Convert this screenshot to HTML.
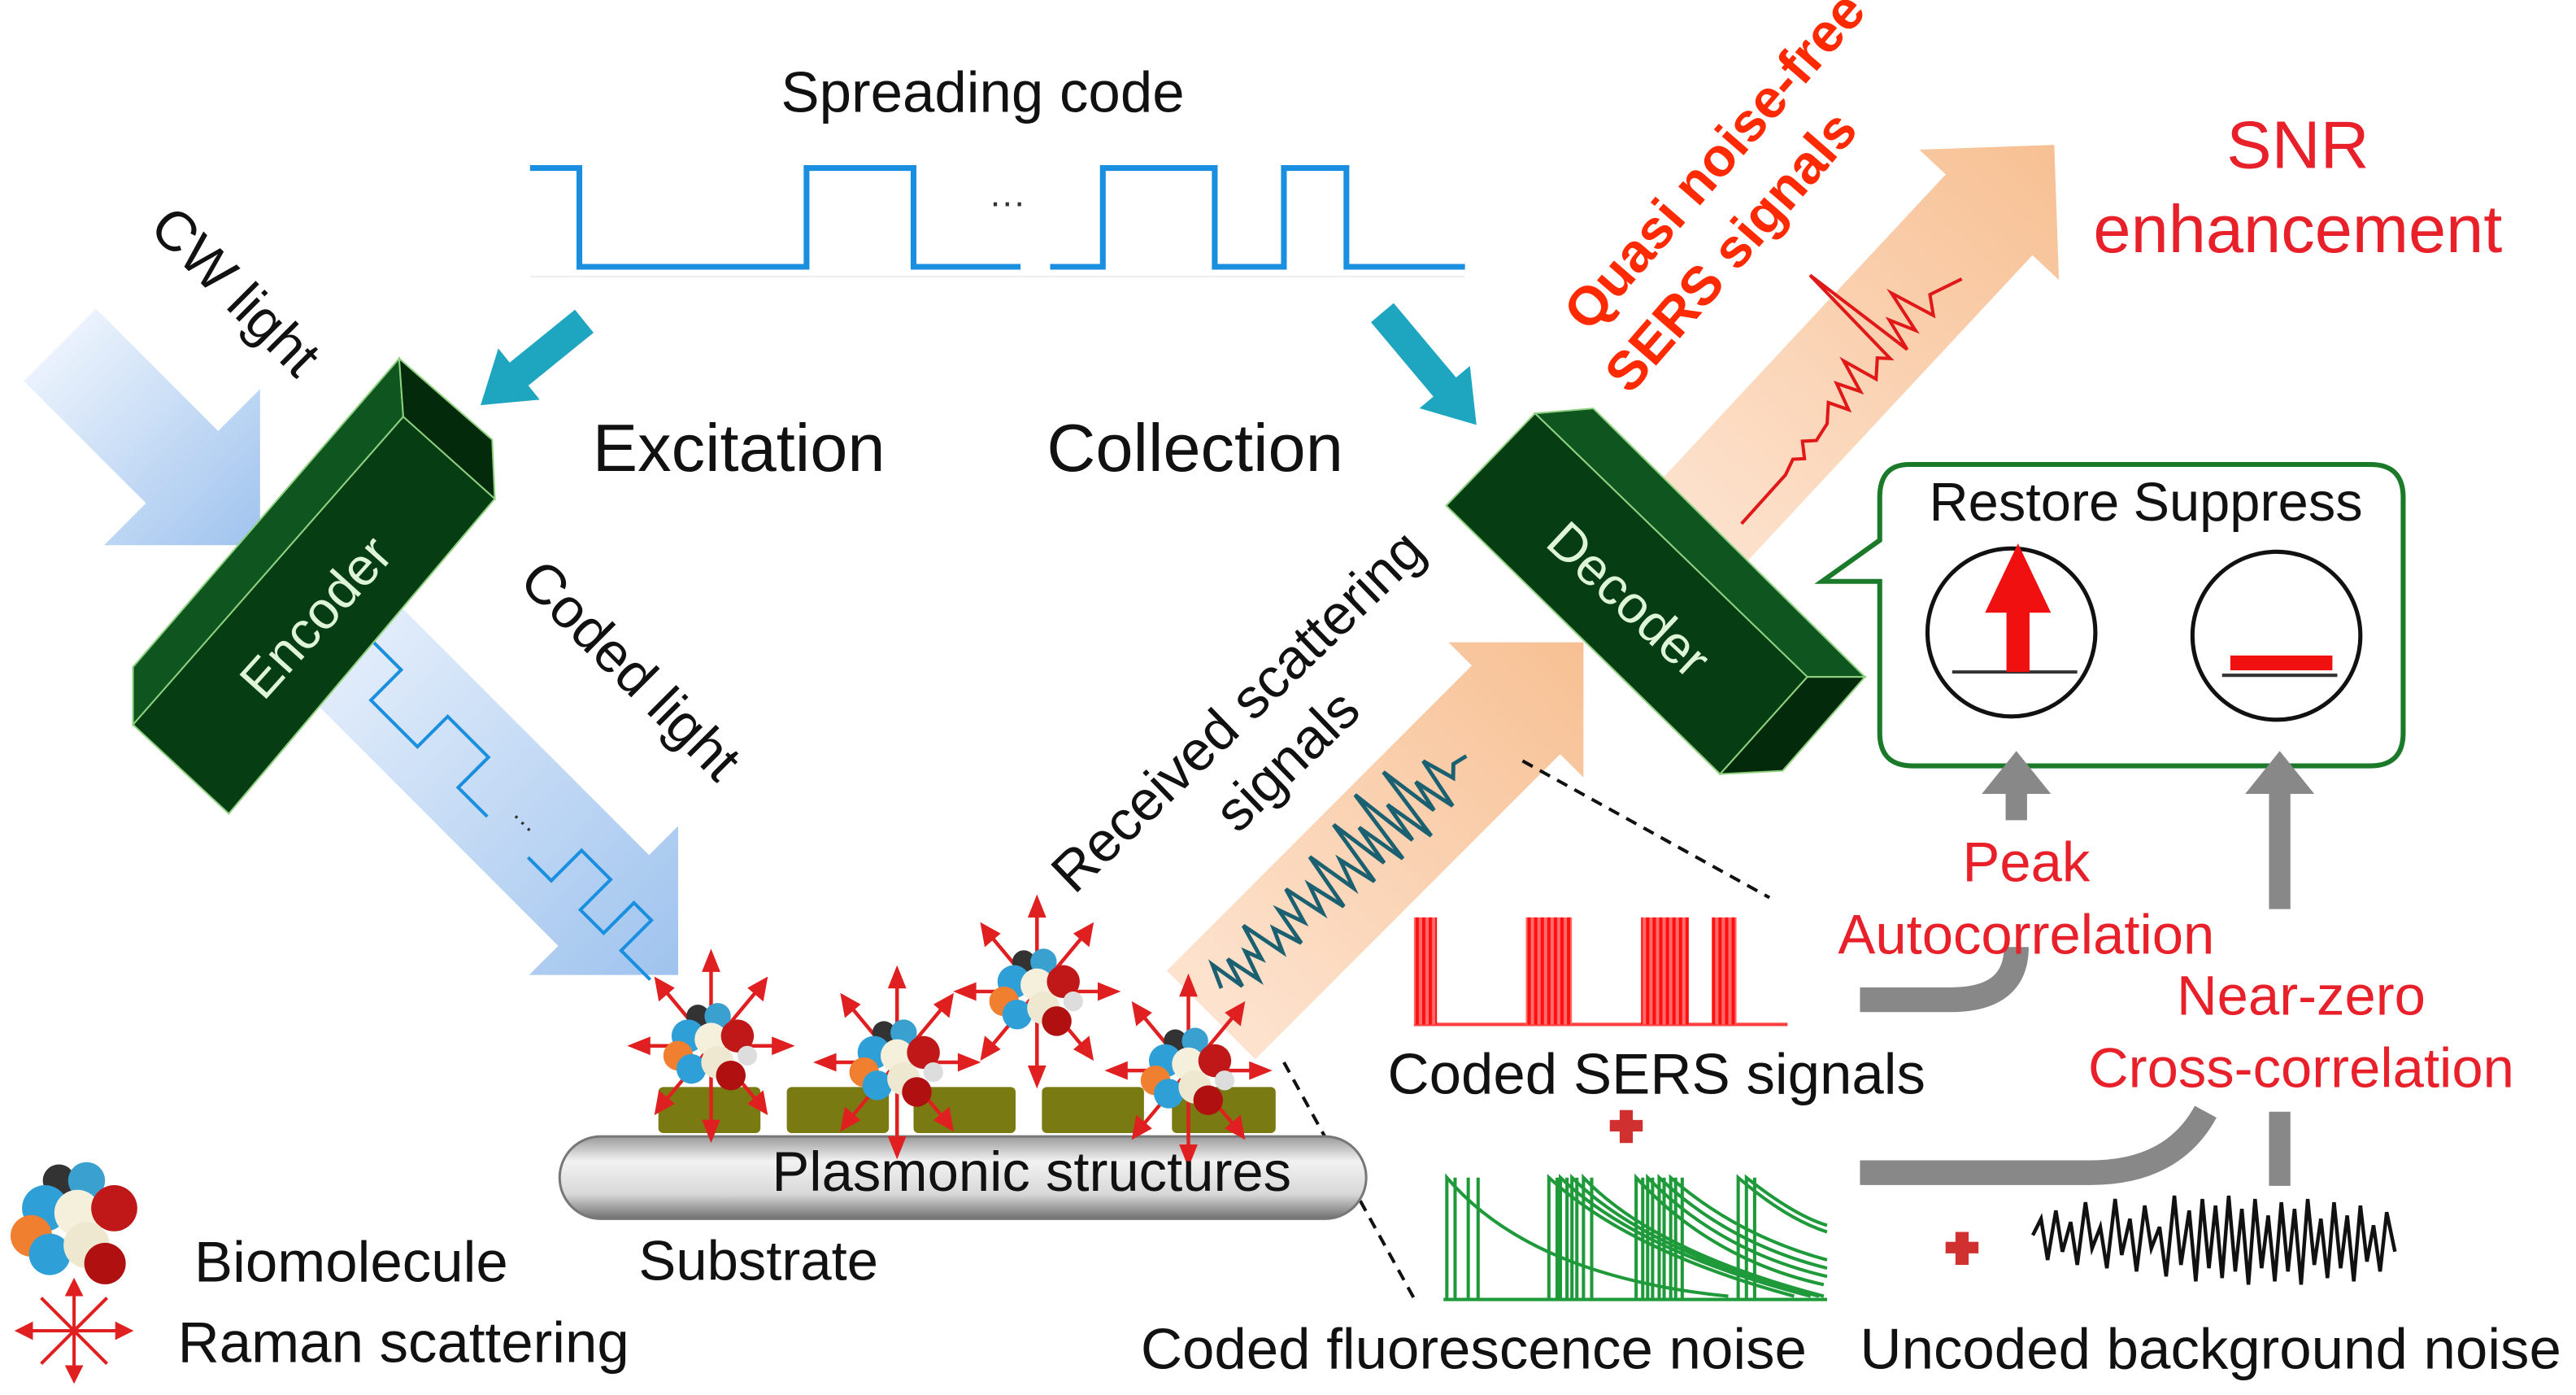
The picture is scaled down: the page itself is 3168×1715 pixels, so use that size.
<!DOCTYPE html>
<html><head><meta charset="utf-8"><style>
html,body{margin:0;padding:0;background:#fff;}
svg{display:block;}
text{font-family:"Liberation Sans",Arial,sans-serif;}
</style></head><body>
<svg width="3168" height="1715" viewBox="0 0 1565 847" preserveAspectRatio="none" xmlns="http://www.w3.org/2000/svg">
<defs>
<linearGradient id="blue" x1="0" y1="0" x2="1" y2="0"><stop offset="0" stop-color="#eaf2fc"/><stop offset="1" stop-color="#9fc3ee"/></linearGradient>
<linearGradient id="peach" x1="0" y1="0" x2="1" y2="0"><stop offset="0" stop-color="#fde3cf"/><stop offset="1" stop-color="#f7c093"/></linearGradient>
<linearGradient id="rod" x1="0" y1="0" x2="0" y2="1"><stop offset="0" stop-color="#9a9a9a"/><stop offset="0.3" stop-color="#f2f2f2"/><stop offset="0.7" stop-color="#d8d8d8"/><stop offset="1" stop-color="#707070"/></linearGradient>
<pattern id="rstripe" width="4" height="10" patternUnits="userSpaceOnUse"><rect width="4" height="10" fill="#ff6a6a"/><rect width="2" height="10" fill="#ff1010"/></pattern>
<g id="mol">
<g stroke="#e02020" stroke-width="2.2" fill="#e02020">
<line x1="0" y1="0" x2="0" y2="-50"/><polygon points="0,-56 -4,-46 4,-46"/>
<line x1="0" y1="0" x2="0" y2="50"/><polygon points="0,56 -4,46 4,46"/>
<line x1="0" y1="0" x2="-42" y2="0"/><polygon points="-48,0 -38,-4 -38,4"/>
<line x1="0" y1="0" x2="42" y2="0"/><polygon points="48,0 38,-4 38,4"/>
<line x1="0" y1="0" x2="-30" y2="-36"/><polygon points="-33,-40 -31,-29 -24,-35"/>
<line x1="0" y1="0" x2="30" y2="-36"/><polygon points="33,-40 31,-29 24,-35"/>
<line x1="0" y1="0" x2="-30" y2="36"/><polygon points="-33,40 -31,29 -24,35"/>
<line x1="0" y1="0" x2="30" y2="36"/><polygon points="33,40 31,29 24,35"/>
</g>
<circle cx="-8" cy="-18" r="7" fill="#333"/>
<circle cx="4" cy="-18" r="8" fill="#3aa0d0"/>
<circle cx="-14" cy="-6" r="10" fill="#2f9fd8"/>
<circle cx="-20" cy="6" r="9" fill="#f08030"/>
<circle cx="-12" cy="14" r="9" fill="#2f9fd8"/>
<circle cx="0" cy="-4" r="10" fill="#f4f0dc"/>
<circle cx="4" cy="10" r="10" fill="#eee8d0"/>
<circle cx="16" cy="-6" r="10" fill="#c01818"/>
<circle cx="12" cy="18" r="9" fill="#b01010"/>
<circle cx="22" cy="6" r="6" fill="#ddd"/>
</g>
</defs>
<rect width="1565" height="847" fill="#fff"/>

<g transform="translate(158,331) rotate(45)"><polygon points="0,0 -67,-67 -67,-31 -172,-31 -172,31 -67,31 -67,67" fill="url(#blue)"/></g>
<g transform="translate(412,592) rotate(45)"><polygon points="0,0 -64,-64 -64,-39 -314,-39 -314,39 -64,39 -64,64" fill="url(#blue)"/>
<polyline points="-280,-12 -250,-12 -250,14 -210,14 -210,-12 -175,-12 -175,14 -150,14" fill="none" stroke="#1a8fe0" stroke-width="2"/>
<text x="-140" y="6" font-size="16" fill="#333">···</text>
<polyline points="-115,14 -95,14 -95,-12 -70,-12 -70,14 -50,14 -50,-12 -35,-12 -35,14 -10,14" fill="none" stroke="#1a8fe0" stroke-width="2"/></g>

<g transform="translate(962,390) rotate(-45)"><polygon points="0,0 -58,-58 -58,-38 -320,-38 -320,38 -58,38 -58,58" fill="url(#peach)"/></g>
<g transform="translate(1248,88) rotate(-47)"><polygon points="0,0 -58,-58 -58,-36 -330,-36 -330,36 -58,36 -58,58" fill="url(#peach)"/></g>

<g transform="translate(742,600) rotate(-44)">
<polyline points="0,0 6,-14 10,8 15,-10 20,12 26,-6 30,4 36,-18 42,10 48,-4 54,14 58,-10 64,6 70,-16 76,10 82,-8 88,16 94,-20 100,12 106,-6 112,18 118,-24 124,14 128,-12 134,20 140,-28 146,16 150,-10 156,22 162,-26 168,12 172,-8 178,18 184,-14 190,6 196,0 205,2" fill="none" stroke="#1a6070" stroke-width="2.4"/></g>
<g transform="translate(1058,318) rotate(-48)">
<polyline points="0,0 40,0 50,-3 55,2 62,-6 68,0 80,-2 90,-10 95,2 102,-14 108,0 115,-20 120,2 130,-6 135,0 140,-70 146,4 152,-16 158,0 165,-26 172,2 180,-8 190,-4 200,0" fill="none" stroke="#e01818" stroke-width="2"/></g>

<g transform="translate(292,246) rotate(141)"><polygon points="0,0 -30,-20 -30,-9 -81,-9 -81,9 -30,9 -30,20" fill="#1ea5bf"/></g>
<g transform="translate(897,258) rotate(50)"><polygon points="0,0 -30,-20 -30,-9 -89,-9 -89,9 -30,9 -30,20" fill="#1ea5bf"/></g>

<text x="597" y="68" font-size="35" text-anchor="middle" fill="#111">Spreading code</text>
<line x1="322" y1="168" x2="890" y2="168" stroke="#eee" stroke-width="1"/>
<polyline points="322,102 352,102 352,162 490,162 490,102 555,102 555,162 620,162" fill="none" stroke="#1a8fe0" stroke-width="3.5"/>
<polyline points="638,162 670,162 670,102 738,102 738,162 780,162 780,102 818,102 818,162 890,162" fill="none" stroke="#1a8fe0" stroke-width="3.5"/>
<text x="612" y="130" font-size="22" text-anchor="middle" fill="#333">···</text>
<text x="360" y="286" font-size="41" fill="#111">Excitation</text>
<text x="636" y="286" font-size="41" fill="#111">Collection</text>

<text transform="translate(135,185) rotate(45)" font-size="34" text-anchor="middle" fill="#111">CW light</text>
<text transform="translate(375,415) rotate(45)" font-size="34" text-anchor="middle" fill="#111">Coded light</text>
<text transform="translate(760,440) rotate(-44)" font-size="34" text-anchor="middle" fill="#111">Received scattering</text>
<text transform="translate(790,470) rotate(-44)" font-size="34" text-anchor="middle" fill="#111">signals</text>

<polygon points="242.5,217.7 245,253 80.8,440 80.8,405" fill="#0f5520" stroke="#8fd080" stroke-width="1"/>
<polygon points="245,253 300.6,302.8 139,494 80.8,440" fill="#063d12" stroke="#8fd080" stroke-width="1"/>
<polygon points="242.5,217.7 299,267 300.6,302.8 245,253" fill="#032a0a" stroke="#8fd080" stroke-width="1"/>
<text transform="translate(200,382) rotate(-48)" font-size="32" text-anchor="middle" fill="#dff5d8">Encoder</text>
<polygon points="932.6,251 968,248 1133,411 1098,411" fill="#0f5520" stroke="#8fd080" stroke-width="1"/>
<polygon points="878.6,307 932.6,251 1098,411 1045,470" fill="#063d12" stroke="#8fd080" stroke-width="1"/>
<polygon points="1098,411 1133,411 1083,468 1045,470" fill="#032a0a" stroke="#8fd080" stroke-width="1"/>
<text transform="translate(982,372) rotate(43)" font-size="32" text-anchor="middle" fill="#dff5d8">Decoder</text>

<text transform="translate(1050,105) rotate(-49)" font-size="33" font-weight="bold" text-anchor="middle" fill="#ff2a00">Quasi noise-free</text>
<text transform="translate(1060,160) rotate(-49)" font-size="33" font-weight="bold" text-anchor="middle" fill="#ff2a00">SERS signals</text>
<text x="1396" y="102" font-size="41" text-anchor="middle" fill="#e8202a">SNR</text>
<text x="1396" y="153" font-size="41" text-anchor="middle" fill="#e8202a">enhancement</text>

<path d="M1160,282 H1440 Q1460,282 1460,302 V445 Q1460,465 1440,465 H1162 Q1142,465 1142,445 V353 H1107 L1142,328 V302 Q1142,282 1160,282 Z" fill="#fff" stroke="#1a7a2a" stroke-width="3"/>
<text x="1172" y="316" font-size="33" fill="#111">Restore</text>
<text x="1296" y="316" font-size="33" fill="#111">Suppress</text>
<circle cx="1222" cy="384" r="51" fill="none" stroke="#111" stroke-width="2.5"/>
<circle cx="1383" cy="386" r="51" fill="none" stroke="#111" stroke-width="2.5"/>
<line x1="1186" y1="408" x2="1262" y2="408" stroke="#333" stroke-width="2"/>
<polygon points="1226,330 1206,372 1219,372 1219,408 1233,408 1233,372 1246,372" fill="#f01010"/>
<line x1="1350" y1="410" x2="1420" y2="410" stroke="#333" stroke-width="2"/>
<rect x="1355" y="398" width="62" height="9" fill="#f01010"/>

<path d="M1130,607 H1185 Q1225,607 1225,575" fill="none" stroke="#888" stroke-width="15"/>
<line x1="1225" y1="498" x2="1225" y2="478" stroke="#888" stroke-width="13"/>
<polygon points="1225,456 1204,482 1246,482" fill="#888"/>
<line x1="1385" y1="552" x2="1385" y2="478" stroke="#888" stroke-width="13"/>
<polygon points="1385,456 1364,482 1406,482" fill="#888"/>
<path d="M1130,712 H1270 Q1320,712 1340,675" fill="none" stroke="#888" stroke-width="15"/>
<line x1="1385" y1="675" x2="1385" y2="720" stroke="#888" stroke-width="13"/>

<text x="1231" y="535" font-size="34" text-anchor="middle" fill="#e8202a">Peak</text>
<text x="1231" y="579" font-size="34" text-anchor="middle" fill="#e8202a">Autocorrelation</text>
<text x="1398" y="616" font-size="34" text-anchor="middle" fill="#e8202a">Near-zero</text>
<text x="1398" y="660" font-size="34" text-anchor="middle" fill="#e8202a">Cross-correlation</text>

<line x1="925" y1="462" x2="1075" y2="545" stroke="#111" stroke-width="2" stroke-dasharray="7,5"/>
<line x1="780" y1="645" x2="860" y2="790" stroke="#111" stroke-width="2" stroke-dasharray="7,5"/>

<line x1="859" y1="622" x2="1086" y2="622" stroke="#ff4040" stroke-width="2"/>
<rect x="859" y="557" width="14" height="65" fill="url(#rstripe)"/>
<rect x="927" y="557" width="28" height="65" fill="url(#rstripe)"/>
<rect x="997" y="557" width="29" height="65" fill="url(#rstripe)"/>
<rect x="1040" y="557" width="15" height="65" fill="url(#rstripe)"/>
<text x="843" y="664" font-size="35" fill="#111">Coded SERS signals</text>
<g fill="#d03030"><rect x="978" y="680" width="20" height="7"/><rect x="984" y="674" width="8" height="20"/></g>
<g fill="none" stroke="#1f9a3a" stroke-width="2">
<line x1="877" y1="789" x2="1110" y2="789"/>
<path d="M879,789 V715 Q930,775 1050,787"/>
<path d="M884,789 V715"/>
<path d="M941,789 V715 Q990,760 1090,787 M948,789 V715 Q995,760 1100,787 M955,789 V715 Q1000,760 1105,787 M962,789 V715 Q1005,760 1108,787 M967,789 V715"/>
<path d="M994,789 V715 Q1040,765 1108,780 M1001,789 V715 Q1045,760 1110,775 M1008,789 V715 Q1050,755 1110,770 M1015,789 V715 Q1055,750 1110,765 M1022,789 V715"/>
<path d="M1056,789 V715 Q1085,740 1110,748 M1061,789 V715 Q1090,738 1110,744 M1066,789 V715"/>
<path d="M892,789 V715 M898,789 V715 M946,789 V715 M952,789 V715 M958,789 V715 M998,789 V715 M1004,789 V715 M1011,789 V715 M1018,789 V715"/>
</g>
<text x="693" y="831" font-size="35" fill="#111">Coded fluorescence noise</text>
<g fill="#d03030"><rect x="1182" y="754" width="20" height="7"/><rect x="1188" y="748" width="8" height="20"/></g>
<polyline points="1235,750 1240,740 1244,765 1249,735 1253,760 1258,742 1262,768 1267,730 1271,758 1276,745 1280,770 1285,728 1289,762 1294,740 1298,772 1303,732 1307,758 1312,745 1316,775 1321,726 1325,768 1330,735 1334,778 1338,728 1342,770 1346,732 1350,776 1354,726 1358,772 1362,734 1366,780 1370,728 1374,770 1378,738 1382,778 1386,730 1390,772 1394,734 1398,780 1402,728 1406,768 1410,740 1414,776 1418,730 1422,770 1426,738 1430,778 1434,732 1438,766 1442,744 1446,772 1450,736 1455,760" fill="none" stroke="#111" stroke-width="2.2"/>
<text x="1130" y="831" font-size="35" fill="#111">Uncoded background noise</text>

<rect x="340" y="690" width="490" height="50" rx="25" fill="url(#rod)" stroke="#777" stroke-width="1.5"/>
<g fill="#7a7a12">
<rect x="400" y="660" width="62" height="28" rx="3"/>
<rect x="478" y="660" width="62" height="28" rx="3"/>
<rect x="555" y="660" width="62" height="28" rx="3"/>
<rect x="633" y="660" width="62" height="28" rx="3"/>
<rect x="712" y="660" width="63" height="28" rx="3"/>
</g>
<use href="#mol" transform="translate(432,635)"/>
<use href="#mol" transform="translate(545,645)"/>
<use href="#mol" transform="translate(630,602)"/>
<use href="#mol" transform="translate(722,650)"/>
<text x="469" y="723" font-size="34" fill="#111">Plasmonic structures</text>
<text x="388" y="777" font-size="34" fill="#111">Substrate</text>

<g transform="translate(47,742) scale(1.4)">
<circle cx="-8" cy="-18" r="7" fill="#333"/><circle cx="4" cy="-18" r="8" fill="#3aa0d0"/>
<circle cx="-14" cy="-6" r="10" fill="#2f9fd8"/><circle cx="-20" cy="6" r="9" fill="#f08030"/>
<circle cx="-12" cy="14" r="9" fill="#2f9fd8"/><circle cx="0" cy="-4" r="10" fill="#f4f0dc"/>
<circle cx="4" cy="10" r="10" fill="#eee8d0"/><circle cx="16" cy="-6" r="10" fill="#c01818"/>
<circle cx="12" cy="18" r="9" fill="#b01010"/>
</g>
<text x="118" y="778" font-size="35" fill="#111">Biomolecule</text>
<g transform="translate(45,808)" stroke="#e02020" stroke-width="2" fill="#e02020">
<line x1="0" y1="-26" x2="0" y2="26"/><line x1="-30" y1="0" x2="30" y2="0"/>
<line x1="-20" y1="-20" x2="20" y2="20"/><line x1="20" y1="-20" x2="-20" y2="20"/>
<polygon points="0,-30 -4,-22 4,-22"/><polygon points="0,30 -4,22 4,22"/>
<polygon points="-34,0 -26,-4 -26,4"/><polygon points="34,0 26,-4 26,4"/>
</g>
<text x="108" y="827" font-size="35" fill="#111">Raman scattering</text>
</svg>
</body></html>
